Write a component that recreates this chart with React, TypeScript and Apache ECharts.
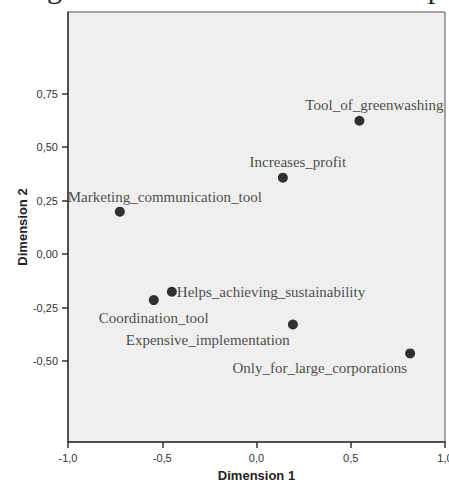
import React, { useEffect, useRef } from "react";
import * as echarts from "echarts";

const labels = [
  "Tool_of_greenwashing",
  "Increases_profit",
  "Marketing_communication_tool",
  "Helps_achieving_sustainability",
  "Coordination_tool",
  "Expensive_implementation",
  "Only_for_large_corporations",
];
const dim1 = [0.546, 0.14, -0.725, -0.449, -0.545, 0.193, 0.815];
const dim2 = [0.623, 0.357, 0.198, -0.176, -0.215, -0.329, -0.464];
const xTicks = [-1, -0.5, 0, 0.5, 1];
const yTicks = [-0.5, -0.25, 0, 0.25, 0.5, 0.75];

// label placement per point: [align, dx, dy]
const labelPlace: [string, number, number][] = [
  ["center", 15, -16],
  ["center", 15, -16],
  ["center", 45, -15],
  ["left", 5, 0],
  ["center", 0, 18],
  ["right", -3, 16],
  ["right", -3, 15],
];

const fmt = (v: number, d: number) => v.toFixed(d).replace(".", ",");

export default function App() {
  const ref = useRef<HTMLDivElement>(null);
  useEffect(() => {
    if (!ref.current) return;
    const chart = echarts.init(ref.current, undefined, { renderer: "svg" });
    const data = labels.map((name, i) => ({
      name,
      value: [dim1[i], dim2[i]],
      label: {
        show: true,
        formatter: name,
        position: "inside",
        align: labelPlace[i][0],
        verticalAlign: "middle",
        offset: [labelPlace[i][1], labelPlace[i][2]],
        fontFamily: "Liberation Serif",
        fontSize: 15,
        color: "#1a1a1a",
      },
    }));
    chart.setOption({
      animation: false,
      graphic: [
        {
          type: "text",
          left: 22,
          top: -28,
          style: {
            text: "Fig 4. MDS solution for total sample",
            fontFamily: "Liberation Serif",
            fontSize: 30,
            fill: "#222",
          },
        },
      ],
      grid: {
        left: 68,
        right: 4,
        top: 12,
        bottom: 49,
        outerBoundsMode: "none",
        containLabel: false,
        show: true,
        backgroundColor: "#efefef",
        borderColor: "#555",
        borderWidth: 1,
      },
      xAxis: {
        type: "value",
        min: -1,
        max: 1,
        interval: 0.5,
        splitLine: { show: false },
        axisLine: { show: true, onZero: false, lineStyle: { color: "#333", width: 1.5 } },
        axisTick: { show: true, length: 6, lineStyle: { color: "#333", width: 1.5 } },
        axisLabel: {
          margin: 10,
          color: "#333",
          fontFamily: "Liberation Sans",
          fontSize: 11,
          formatter: (v: number) => fmt(v, 1),
          customValues: xTicks,
        },
        name: "Dimension 1",
        nameLocation: "middle",
        nameGap: 27,
        nameMoveOverlap: false,
        nameTextStyle: {
          fontFamily: "Liberation Sans",
          fontWeight: "bold",
          fontSize: 13,
          color: "#222",
        },
      },
      yAxis: {
        type: "value",
        min: -0.878,
        max: 1.131,
        splitLine: { show: false },
        axisLine: { show: true, onZero: false, lineStyle: { color: "#333", width: 1.5 } },
        axisTick: {
          show: true,
          length: 6,
          lineStyle: { color: "#333", width: 1.5 },
          customValues: yTicks,
        },
        axisLabel: {
          margin: 10,
          color: "#333",
          fontFamily: "Liberation Sans",
          fontSize: 11,
          formatter: (v: number) => fmt(v, 2),
          customValues: yTicks,
        },
        name: "Dimension 2",
        nameLocation: "middle",
        nameGap: 39,
        nameMoveOverlap: false,
        nameTextStyle: {
          fontFamily: "Liberation Sans",
          fontWeight: "bold",
          fontSize: 13,
          color: "#222",
        },
      },
      series: [
        {
          type: "scatter",
          symbolSize: 10,
          itemStyle: { color: "#000" },
          data,
        },
      ],
    });
    return () => chart.dispose();
  }, []);
  return (
    <div
      ref={ref}
      style={{ position: "fixed", left: 0, top: 0, width: 449, height: 491, background: "#fff" }}
    />
  );
}
